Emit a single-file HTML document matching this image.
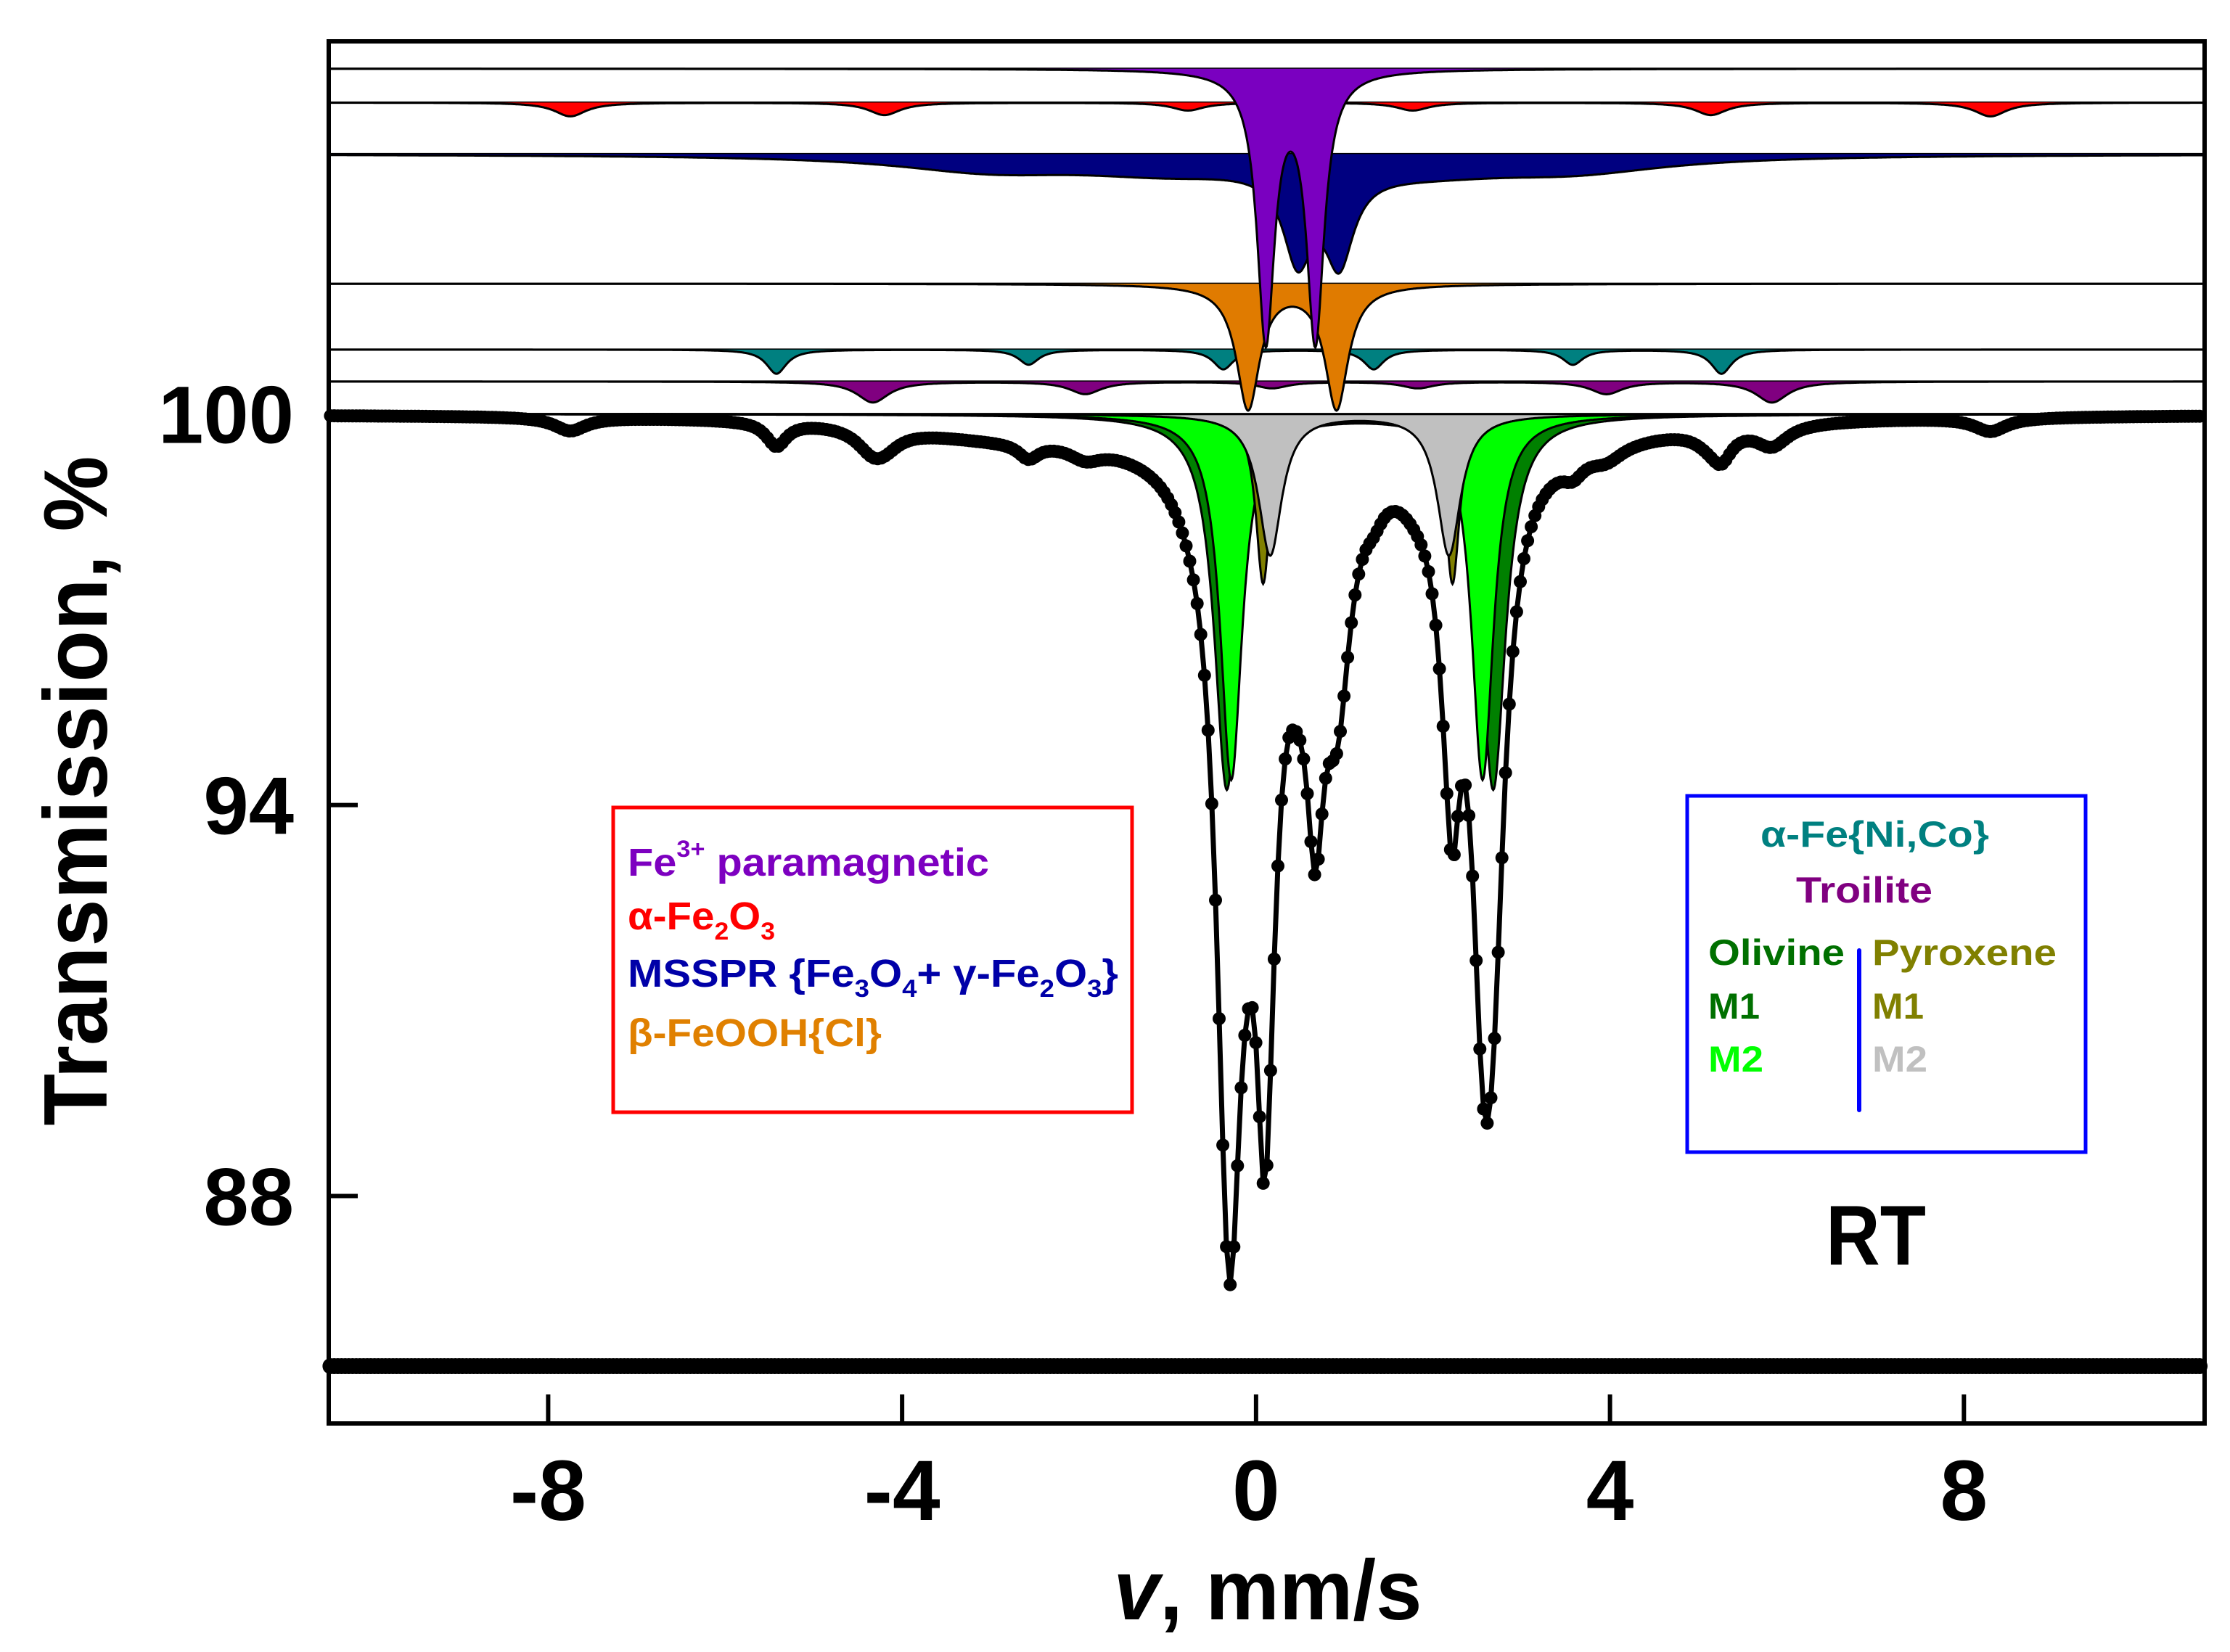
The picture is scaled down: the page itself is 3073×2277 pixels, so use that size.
<!DOCTYPE html>
<html><head><meta charset="utf-8"><style>
html,body{margin:0;padding:0;background:#fff;}
svg{display:block;}
text{font-family:"Liberation Sans",Arial,sans-serif;font-weight:bold;}
</style></head><body>
<svg id="chart" width="3073" height="2277" viewBox="0 0 3073 2277" xmlns="http://www.w3.org/2000/svg">
<rect x="0" y="0" width="3073" height="2277" fill="#fff"/>
<g id="components"></g>
<g id="data"></g>
<g id="resid"></g>
<g id="axes"></g>

<g>
<rect x="845" y="1113" width="715" height="420" fill="none" stroke="#ff0000" stroke-width="5"/>
<text x="865" y="1207" font-size="54" fill="#7d00c0" textLength="498" lengthAdjust="spacingAndGlyphs">Fe<tspan font-size="32" dy="-26">3+</tspan><tspan dy="26"> paramagnetic</tspan></text>
<text x="865" y="1281" font-size="54" fill="#ff0000" textLength="203" lengthAdjust="spacingAndGlyphs">α-Fe<tspan font-size="34" dy="14">2</tspan><tspan dy="-14">O</tspan><tspan font-size="34" dy="14">3</tspan></text>
<text x="865" y="1360" font-size="54" fill="#0000a8" textLength="676" lengthAdjust="spacingAndGlyphs">MSSPR  {Fe<tspan font-size="34" dy="14">3</tspan><tspan dy="-14">O</tspan><tspan font-size="34" dy="14">4</tspan><tspan dy="-14">+ γ-Fe</tspan><tspan font-size="34" dy="14">2</tspan><tspan dy="-14">O</tspan><tspan font-size="34" dy="14">3</tspan><tspan dy="-14">}</tspan></text>
<text x="865" y="1442" font-size="54" fill="#e08000" textLength="350" lengthAdjust="spacingAndGlyphs">β-FeOOH{Cl}</text>
</g>

<g>
<rect x="2325" y="1097" width="549" height="491" fill="none" stroke="#0000ff" stroke-width="5"/>
<text x="2426" y="1167" font-size="50" fill="#008080" textLength="315" lengthAdjust="spacingAndGlyphs">α-Fe{Ni,Co}</text>
<text x="2475" y="1244" font-size="50" fill="#800080" textLength="188" lengthAdjust="spacingAndGlyphs">Troilite</text>
<text x="2354" y="1330" font-size="50" fill="#007000" textLength="188" lengthAdjust="spacingAndGlyphs">Olivine</text>
<text x="2580" y="1330" font-size="50" fill="#808000" textLength="254" lengthAdjust="spacingAndGlyphs">Pyroxene</text>
<text x="2354" y="1404" font-size="50" fill="#007000" textLength="71" lengthAdjust="spacingAndGlyphs">M1</text>
<text x="2354" y="1477" font-size="50" fill="#00ff00" textLength="76" lengthAdjust="spacingAndGlyphs">M2</text>
<text x="2580" y="1404" font-size="50" fill="#808000" textLength="71" lengthAdjust="spacingAndGlyphs">M1</text>
<text x="2580" y="1477" font-size="50" fill="#c0c0c0" textLength="76" lengthAdjust="spacingAndGlyphs">M2</text>
<line x1="2562" y1="1310" x2="2562" y2="1530" stroke="#0000ff" stroke-width="6" stroke-linecap="round"/>
</g>
<text x="2585" y="1743" font-size="117" fill="#000" text-anchor="middle" textLength="138" lengthAdjust="spacingAndGlyphs">RT</text>

<text x="1747" y="2232" font-size="117" fill="#000" text-anchor="middle" textLength="425" lengthAdjust="spacingAndGlyphs"><tspan font-style="italic">v</tspan>, mm/s</text>
<text transform="translate(147,1090) rotate(-90)" x="0" y="0" font-size="124" fill="#000" text-anchor="middle" textLength="923" lengthAdjust="spacingAndGlyphs">Transmission, %</text>
</svg>
<script>
// ---- data ----
const xTicks = [-8, -4, 0, 4, 8];
const xTickLabels = ["-8", "-4", "0", "4", "8"];
const yTicks = [100, 94, 88];
const yTickLabels = ["100", "94", "88"];

// component line positions (mm/s), depths (%), half-widths (mm/s)
const fe3Pos = [0.11, 0.67];          const fe3Depth = [4.1, 4.1];          const fe3Width = [0.12, 0.12];
const hemPos = [-7.75, -4.2, -0.77, 1.77, 5.14, 8.3]; const hemDepth = [0.21, 0.19, 0.12, 0.12, 0.19, 0.21]; const hemWidth = [0.22, 0.22, 0.22, 0.22, 0.22, 0.22];
const mssPos = [0.47, 0.94, -3.0, -1.0, 1.9, 3.6]; const mssDepth = [1.35, 1.35, 0.22, 0.22, 0.22, 0.22]; const mssWidth = [0.2, 0.2, 1.3, 1.3, 1.3, 1.3];
const akaPos = [-0.09, 0.91];         const akaDepth = [1.9, 1.9];          const akaWidth = [0.16, 0.16];
const fePos = [-5.42, -2.57, -0.37, 1.33, 3.58, 5.26]; const feDepth = [0.37, 0.23, 0.3, 0.3, 0.23, 0.37]; const feWidth = [0.14, 0.14, 0.14, 0.14, 0.14, 0.14];
const troPos = [-4.33, -1.93, 0.18, 1.83, 3.96, 5.83]; const troDepth = [0.32, 0.19, 0.1, 0.1, 0.19, 0.32]; const troWidth = [0.22, 0.22, 0.22, 0.22, 0.22, 0.22];
const olM1Pos = [-0.33, 2.68];        const olM1Depth = [5.75, 5.75];       const olM1Width = [0.17, 0.17];
const olM2Pos = [-0.28, 2.56];        const olM2Depth = [5.6, 5.6];         const olM2Width = [0.15, 0.15];
const pxM1Pos = [0.08, 2.22];         const pxM1Depth = [2.6, 2.6];         const pxM1Width = [0.1, 0.1];
const pxM2Pos = [0.16, 2.18];         const pxM2Depth = [2.16, 2.16];       const pxM2Width = [0.16, 0.16];
// vertical offsets of the stacked sub-spectra (transmission %)
const offsets = {fe3: 105.3, hem: 104.78, mss: 103.99, aka: 102.0, fe: 100.99, tro: 100.5, main: 100};
const residualLevel = 85.39;
const residuals = [0];

// ---- scales ----
const L = 453, R = 3038, T = 57, B = 1962;
const vMin = -10.48, vMax = 10.72;
const tMax = 105.72, tMin = 84.51;
function X(v){ return L + (v - vMin) * (R - L) / (vMax - vMin); }
function Y(t){ return T + (tMax - t) * (B - T) / (tMax - tMin); }
function lor(v, pos, dep, wid){ let s = 0; for (let i = 0; i < pos.length; i++){ const d = (v - pos[i]) / wid[i]; s += dep[i] / (1 + d * d); } return s; }

const NS = "http://www.w3.org/2000/svg";
const comps = document.getElementById("components");

const layers = [
  {key:"olM1", base:offsets.main, pos:olM1Pos, dep:olM1Depth, wid:olM1Width, col:"#008000", line:true},
  {key:"olM2", base:offsets.main, pos:olM2Pos, dep:olM2Depth, wid:olM2Width, col:"#00ff00", line:false},
  {key:"pxM1", base:offsets.main, pos:pxM1Pos, dep:pxM1Depth, wid:pxM1Width, col:"#808000", line:false},
  {key:"pxM2", base:offsets.main, pos:pxM2Pos, dep:pxM2Depth, wid:pxM2Width, col:"#c0c0c0", line:false},
  {key:"tro", base:offsets.tro, pos:troPos, dep:troDepth, wid:troWidth, col:"#800080", line:true},
  {key:"fe", base:offsets.fe, pos:fePos, dep:feDepth, wid:feWidth, col:"#008080", line:true},
  {key:"aka", base:offsets.aka, pos:akaPos, dep:akaDepth, wid:akaWidth, col:"#e07b00", line:true},
  {key:"mss", base:offsets.mss, pos:mssPos, dep:mssDepth, wid:mssWidth, col:"#000080", line:true},
  {key:"hem", base:offsets.hem, pos:hemPos, dep:hemDepth, wid:hemWidth, col:"#ff0000", line:true},
  {key:"fe3", base:offsets.fe3, pos:fe3Pos, dep:fe3Depth, wid:fe3Width, col:"#7a00c0", line:true}
];
const names = {pxM1:"pyroxene-m1-doublet", pxM2:"pyroxene-m2-doublet", olM1:"olivine-m1-doublet", olM2:"olivine-m2-doublet", tro:"troilite-sextet", fe:"alpha-fe-sextet", aka:"akaganeite-doublet", mss:"msspr-component", hem:"hematite-sextet", fe3:"fe3-paramagnetic-doublet"};

layers.forEach(c => {
  if (c.line){
    const ln = document.createElementNS(NS, "line");
    ln.setAttribute("x1", L); ln.setAttribute("x2", R);
    ln.setAttribute("y1", Y(c.base)); ln.setAttribute("y2", Y(c.base));
    ln.setAttribute("stroke", "#000"); ln.setAttribute("stroke-width", "3");
    
    
    comps.appendChild(ln);
  }
  let d = "M" + L + "," + Y(c.base);
  let od = "";
  for (let v = vMin; v <= vMax + 1e-9; v += 0.01){
    const y = Y(c.base - lor(v, c.pos, c.dep, c.wid));
    d += " L" + X(v).toFixed(1) + "," + y.toFixed(1);
    od += (od ? " L" : "M") + X(v).toFixed(1) + "," + y.toFixed(1);
  }
  d += " L" + R + "," + Y(c.base) + " Z";
  const p = document.createElementNS(NS, "path");
  p.setAttribute("d", d); p.setAttribute("fill", c.col); p.setAttribute("stroke", "none");
  
  
  comps.appendChild(p);
  const o = document.createElementNS(NS, "path");
  o.setAttribute("d", od); o.setAttribute("fill", "none"); o.setAttribute("stroke", "#000"); o.setAttribute("stroke-width", "3");
  
  
  comps.appendChild(o);
});
const mb = document.createElementNS(NS, "line");
mb.setAttribute("x1", L); mb.setAttribute("x2", R); mb.setAttribute("y1", Y(offsets.main)); mb.setAttribute("y2", Y(offsets.main));
mb.setAttribute("stroke", "#000"); mb.setAttribute("stroke-width", "3");


comps.appendChild(mb);

// experimental spectrum = sum of components
const dataG = document.getElementById("data");
const residG = document.getElementById("resid");
let dp = "", rp = "";
const pts = [];
for (let v = vMin + 0.02; v <= vMax - 0.02; v += 0.0415){
  let s = 0; layers.forEach(c => { s += lor(v, c.pos, c.dep, c.wid); });
  pts.push([X(v), Y(offsets.main - s), Y(residualLevel + residuals[0])]);
}
pts.forEach((p, i) => { dp += (i ? " L" : "M") + p[0].toFixed(1) + "," + p[1].toFixed(1); rp += (i ? " L" : "M") + p[0].toFixed(1) + "," + p[2].toFixed(1); });
const dl = document.createElementNS(NS, "path");
dl.setAttribute("d", dp); dl.setAttribute("fill", "none"); dl.setAttribute("stroke", "#000"); dl.setAttribute("stroke-width", "7");


dataG.appendChild(dl);
const rl = document.createElementNS(NS, "path");
rl.setAttribute("d", rp); rl.setAttribute("fill", "none"); rl.setAttribute("stroke", "#000"); rl.setAttribute("stroke-width", "20");


residG.appendChild(rl);
pts.forEach(p => {
  const c = document.createElementNS(NS, "circle");
  c.setAttribute("cx", p[0].toFixed(1)); c.setAttribute("cy", p[1].toFixed(1)); c.setAttribute("r", "9");
  
  
  dataG.appendChild(c);
  const r = document.createElementNS(NS, "circle");
  r.setAttribute("cx", p[0].toFixed(1)); r.setAttribute("cy", p[2].toFixed(1)); r.setAttribute("r", "11");
  
  
  residG.appendChild(r);
});

// axes
const ax = document.getElementById("axes");
const frame = document.createElementNS(NS, "rect");
frame.setAttribute("x", L); frame.setAttribute("y", T); frame.setAttribute("width", R - L); frame.setAttribute("height", B - T);
frame.setAttribute("fill", "none"); frame.setAttribute("stroke", "#000"); frame.setAttribute("stroke-width", "6");


ax.appendChild(frame);
xTicks.forEach((v, i) => {
  const t = document.createElementNS(NS, "line");
  t.setAttribute("x1", X(v)); t.setAttribute("x2", X(v)); t.setAttribute("y1", B); t.setAttribute("y2", B - 40);
  t.setAttribute("stroke", "#000"); t.setAttribute("stroke-width", "6");
  
  
  ax.appendChild(t);
  const tx = document.createElementNS(NS, "text");
  tx.setAttribute("x", X(v)); tx.setAttribute("y", 2095); tx.setAttribute("font-size", "118"); tx.setAttribute("text-anchor", "middle");
  tx.textContent = xTickLabels[i];
  
  
  ax.appendChild(tx);
});
yTicks.forEach((t, i) => {
  const l = document.createElementNS(NS, "line");
  l.setAttribute("x1", L); l.setAttribute("x2", L + 40); l.setAttribute("y1", Y(t)); l.setAttribute("y2", Y(t));
  l.setAttribute("stroke", "#000"); l.setAttribute("stroke-width", "6");
  
  
  ax.appendChild(l);
  const tx = document.createElementNS(NS, "text");
  tx.setAttribute("x", 405); tx.setAttribute("y", Y(t) + 40); tx.setAttribute("font-size", "112"); tx.setAttribute("text-anchor", "end");
  tx.textContent = yTickLabels[i];
  
  
  ax.appendChild(tx);
});
</script>
</body></html>
